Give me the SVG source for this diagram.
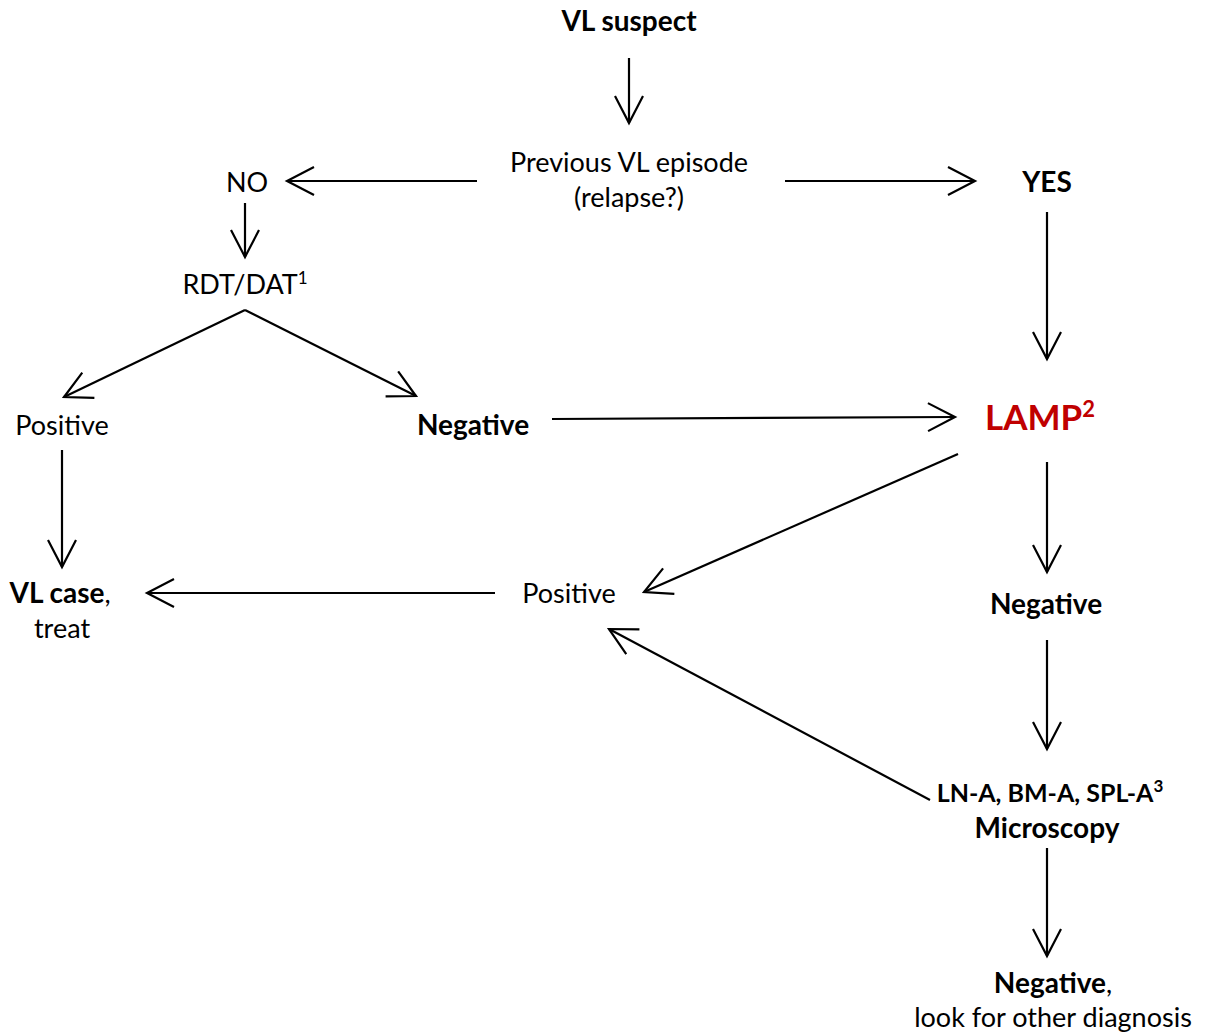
<svg xmlns="http://www.w3.org/2000/svg" width="1209" height="1033" viewBox="0 0 1209 1033">
<defs>
<marker id="ah" markerUnits="userSpaceOnUse" markerWidth="40" markerHeight="40" viewBox="-30 -20 40 40" refX="0" refY="0" orient="auto">
<path d="M-27,-14 L0,0 L-27,14" fill="none" stroke="#000" stroke-width="2.2"/>
</marker>
<style>
text{font-family:Lato,"Open Sans","Liberation Sans",sans-serif;font-size:27px;fill:#000;text-anchor:middle}
.b{font-weight:bold;font-size:28px}
.red{fill:#C00000;font-size:35px;font-weight:bold}
.sup{font-size:17px}
.c line{stroke:#000;stroke-width:2.2;fill:none;marker-end:url(#ah)}
</style>
</defs>
<rect width="1209" height="1033" fill="#fff"/>
<g id="connectors" class="c">
<line x1="629" y1="58" x2="629" y2="123"/>
<line x1="477" y1="181" x2="287" y2="181"/>
<line x1="785" y1="181" x2="975" y2="181"/>
<line x1="245" y1="203" x2="245" y2="257"/>
<line x1="245" y1="310" x2="64" y2="397"/>
<line x1="245" y1="310" x2="416" y2="396"/>
<line x1="552" y1="419" x2="955" y2="417"/>
<line x1="1047" y1="212" x2="1047" y2="359"/>
<line x1="958" y1="454" x2="644" y2="592"/>
<line x1="1047" y1="462" x2="1047" y2="572"/>
<line x1="1047" y1="640" x2="1047" y2="749"/>
<line x1="930" y1="800" x2="609" y2="629"/>
<line x1="495" y1="593" x2="147" y2="593"/>
<line x1="62" y1="450" x2="62" y2="567"/>
<line x1="1047" y1="848" x2="1047" y2="956"/>
</g>
<g id="vl-suspect"><text class="b" x="629" y="31">VL suspect</text></g>
<g id="previous"><text x="629" y="172">Previous VL episode</text><text x="629" y="207">(relapse?)</text></g>
<g id="no"><text x="247" y="192">NO</text></g>
<g id="yes"><text class="b" x="1047" y="192">YES</text></g>
<g id="rdt"><text x="245" y="294">RDT/DAT<tspan class="sup" dy="-10">1</tspan></text></g>
<g id="positive-left"><text x="62" y="435">Positive</text></g>
<g id="negative-mid"><text class="b" x="473" y="435">Negative</text></g>
<g id="lamp"><text class="red" x="1040" y="430">LAMP<tspan font-size="22" dy="-13">2</tspan></text></g>
<g id="positive-mid"><text x="569" y="603">Positive</text></g>
<g id="vl-case"><text x="60" y="603"><tspan class="b">VL case</tspan>,</text><text x="62" y="638">treat</text></g>
<g id="negative-right"><text class="b" x="1046" y="614">Negative</text></g>
<g id="microscopy"><text class="b" x="1050" y="802" style="font-size:25px">LN-A, BM-A, SPL-A<tspan class="sup" dy="-10">3</tspan></text><text class="b" x="1047" y="838">Microscopy</text></g>
<g id="negative-final"><text x="1053" y="993"><tspan class="b">Negative</tspan>,</text><text x="1053" y="1027">look for other diagnosis</text></g>
</svg>
